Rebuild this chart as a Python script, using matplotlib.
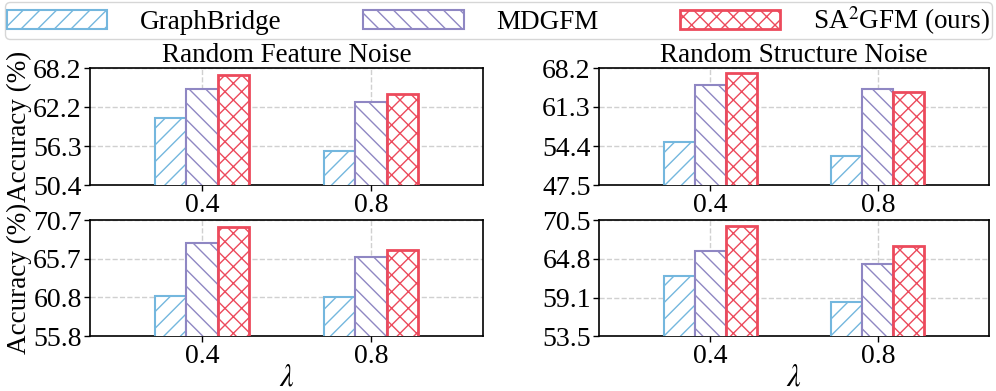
import matplotlib
matplotlib.use("Agg")
import matplotlib.pyplot as plt
import numpy as np

plt.rcParams['font.family'] = ['Liberation Serif', 'DejaVu Serif']
plt.rcParams['mathtext.fontset'] = 'stix'
plt.rcParams['hatch.linewidth'] = 1.0

lambdas = ["0.4", "0.8"]
methods = ["GraphBridge", "MDGFM", r"SA$^2$GFM (ours)"]

feat_top = {"GraphBridge": [60.6, 55.5], "MDGFM": [65.0, 63.0], "SA2GFM": [67.2, 64.2]}
struct_top = {"GraphBridge": [55.1, 52.6], "MDGFM": [65.2, 64.5], "SA2GFM": [67.3, 63.9]}
feat_bot = {"GraphBridge": [61.0, 60.8], "MDGFM": [67.8, 65.9], "SA2GFM": [69.8, 66.8]}
struct_bot = {"GraphBridge": [62.3, 58.5], "MDGFM": [66.0, 64.0], "SA2GFM": [69.6, 66.7]}

ticks_tl = [50.4, 56.3, 62.2, 68.2]
ticks_tr = [47.5, 54.4, 61.3, 68.2]
ticks_bl = [55.8, 60.8, 65.7, 70.7]
ticks_br = [53.5, 59.1, 64.8, 70.5]

titles = ["Random Feature Noise", "Random Structure Noise"]

colors = ["#74B7DE", "#8F87C3", "#EC4A5C"]
hatches = ["//", "\\\\", "xx"]
lws = [1.5, 1.5, 2.0]
keys = ["GraphBridge", "MDGFM", "SA2GFM"]

fig = plt.figure(figsize=(9.96, 3.91), dpi=100)
W, H = 996, 391

def add_ax(x0, y0, x1, y1):
    return fig.add_axes([x0 / W, 1 - y1 / H, (x1 - x0) / W, (y1 - y0) / H])

axes = [
    (add_ax(90, 68, 483, 185), feat_top, ticks_tl, titles[0], True, False),
    (add_ax(599, 68, 989, 185), struct_top, ticks_tr, titles[1], False, False),
    (add_ax(90, 220, 483, 336), feat_bot, ticks_bl, None, True, True),
    (add_ax(599, 220, 989, 336), struct_bot, ticks_br, None, False, True),
]

x = np.arange(len(lambdas))
w = 0.185
handles = []
for ax, data, ticks, title, ylab, xlab in axes:
    ax.set_axisbelow(True)
    for i, k in enumerate(keys):
        b = ax.bar(x + (i - 1) * w, data[k], w, facecolor="white", edgecolor=colors[i],
                   hatch=hatches[i], linewidth=lws[i], label=methods[i], zorder=3)
        if ax is axes[0][0]:
            handles.append(b)
    ax.set_ylim(ticks[0], ticks[-1])
    ax.set_yticks(ticks)
    ax.set_yticklabels([f"{t:.1f}" for t in ticks])
    ax.set_xlim(-0.663, 1.663)
    ax.set_xticks(x)
    ax.set_xticklabels(lambdas)
    ax.tick_params(labelsize=20, length=4, width=1, pad=2)
    ax.grid(True, linestyle="--", color="#d0d0d0", linewidth=1)
    for s in ax.spines.values():
        s.set_linewidth(1.2)
    if title:
        ax.set_title(title, fontsize=19.5, pad=3)
    if ylab:
        ax.set_ylabel("Accuracy (%)", fontsize=19.5, labelpad=1)
    if xlab:
        ax.set_xlabel(r"$\lambda$", fontsize=22, labelpad=-4)

fig.legend(handles, methods, loc="upper left", bbox_to_anchor=(5 / W, 1 - 2 / H, 987 / W, 0.0),
           mode="expand", ncol=3, fontsize=19.5, handlelength=3.7, handleheight=0.75,
           frameon=True, edgecolor="#cccccc", borderpad=0.08, handletextpad=1.2,
           borderaxespad=0)

fig.savefig("out.png", dpi=100)
